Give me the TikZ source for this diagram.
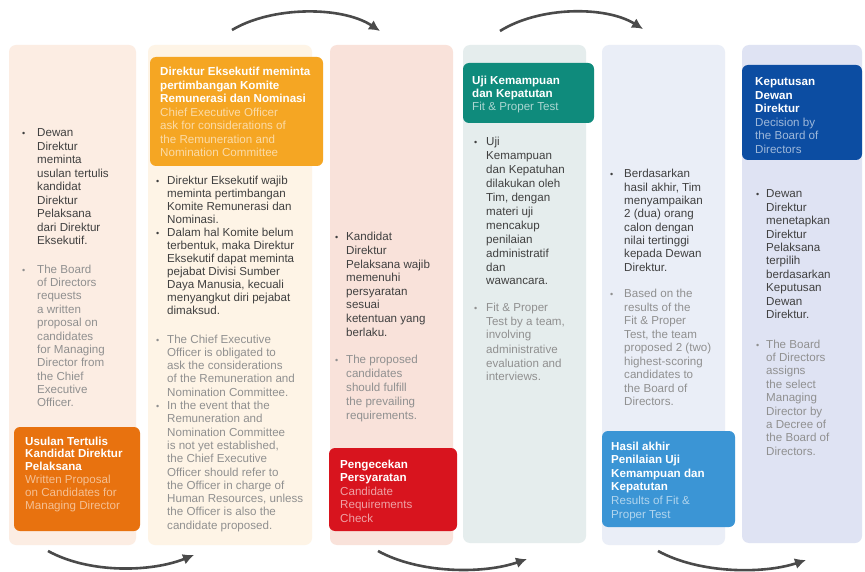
\documentclass[tikz,border=0pt]{standalone}
\usepackage{fontspec}
\setmainfont{Liberation Sans}
\usetikzlibrary{arrows.meta}
\definecolor{bgA}{HTML}{FCEDE3}
\definecolor{bgB}{HTML}{FEF4E6}
\definecolor{bgC}{HTML}{F9E2DA}
\definecolor{bgD}{HTML}{E5EDED}
\definecolor{bgE}{HTML}{EAEEF7}
\definecolor{bgF}{HTML}{DFE3F3}
\definecolor{hA}{HTML}{E8720F}
\definecolor{hB}{HTML}{F5A623}
\definecolor{hC}{HTML}{D8141E}
\definecolor{hD}{HTML}{0F8B7C}
\definecolor{hE}{HTML}{3B95D5}
\definecolor{hF}{HTML}{0C4DA2}
\definecolor{idgray}{HTML}{404040}
\definecolor{engray}{HTML}{909090}
\definecolor{arrowgray}{HTML}{4A4A4A}
\newcommand\blk[2]{\parbox[t]{200pt}{\fontsize{11.6}{#1}\selectfont\raggedright #2}}
\newcommand\hdrtxt[4]{\parbox[t]{200pt}{\fontsize{11.6}{#1}\selectfont\raggedright\bfseries #2\\\mdseries\color{#4}#3}}
\tikzset{
  colbg/.style={rounded corners=7pt},
  hdrbox/.style={rounded corners=6pt},
  idt/.style={anchor=base west, inner sep=0pt, text=idgray},
  ent/.style={anchor=base west, inner sep=0pt, text=engray},
  hdt/.style={anchor=base west, inner sep=0pt, text=white},
  bulid/.style={anchor=base west, inner sep=0pt, text=idgray, font=\fontsize{9}{9}\selectfont},
  bulen/.style={anchor=base west, inner sep=0pt, text=engray, font=\fontsize{9}{9}\selectfont},
  flow/.style={draw=arrowgray, line width=2.6pt, -{Latex[length=11pt,width=11pt]}}
}
\begin{document}
\begin{tikzpicture}[x=1pt,y=-1pt]
\fill[white] (0,0) rectangle (865,572);
\useasboundingbox (0,0) rectangle (865,572);
% column backgrounds
\fill[bgA,colbg] (9,45) rectangle (136,545);
\fill[bgB,colbg] (148,45) rectangle (312,545);
\fill[bgC,colbg] (330,45) rectangle (453,545);
\fill[bgD,colbg] (463,45) rectangle (586,543);
\fill[bgE,colbg] (602,45) rectangle (725,545);
\fill[bgF,colbg] (742,45) rectangle (862,543);
% header boxes
\fill[hA,hdrbox] (14,427) rectangle (140,531);
\fill[hB,hdrbox] (150,57) rectangle (323,166);
\fill[hC,hdrbox] (329,448) rectangle (457,531);
\fill[hD,hdrbox] (463,63) rectangle (594,123);
\fill[hE,hdrbox] (602,431) rectangle (735,527);
\fill[hF,hdrbox] (742,65) rectangle (862,160);
% ---- column 1
\node[bulid] (b1a) at (22,137) {\textbullet};
\node[idt] (t1a) at (37,137) {\blk{13.5}{Dewan\\Direktur\\meminta\\usulan tertulis\\kandidat\\Direktur\\Pelaksana\\dari Direktur\\Eksekutif.}};
\node[bulen] (b1b) at (22,273) {\textbullet};
\node[ent] (t1b) at (37,273) {\blk{13.4}{The Board\\of Directors\\requests\\a written\\proposal on\\candidates\\for Managing\\Director from\\the Chief\\Executive\\Officer.}};
\node[hdt] (h1) at (25,445) {\hdrtxt{12.8}{Usulan Tertulis\\Kandidat Direktur\\Pelaksana}{Written Proposal\\on Candidates for\\Managing Director}{hA!45!white}};
% ---- column 2
\node[hdt] (h2) at (160,76) {\hdrtxt{13.5}{Direktur Eksekutif meminta\\pertimbangan Komite\\Remunerasi dan Nominasi}{Chief Executive Officer\\ask for considerations of\\the Remuneration and\\Nomination Committee}{hB!40!white}};
\node[bulid] (b2a) at (156,185) {\textbullet};
\node[bulid] (b2b) at (156,237) {\textbullet};
\node[idt] (t2a) at (167,185) {\blk{13}{Direktur Eksekutif wajib\\meminta pertimbangan\\Komite Remunerasi dan\\Nominasi.\\Dalam hal Komite belum\\terbentuk, maka Direktur\\Eksekutif dapat meminta\\pejabat Divisi Sumber\\Daya Manusia, kecuali\\menyangkut diri pejabat\\dimaksud.}};
\node[bulen] (b2c) at (156,343) {\textbullet};
\node[bulen] (b2d) at (156,409.5) {\textbullet};
\node[ent] (t2b) at (167,343) {\blk{13.3}{The Chief Executive\\Officer is obligated to\\ask the considerations\\of the Remuneration and\\Nomination Committee.\\In the event that the\\Remuneration and\\Nomination Committee\\is not yet established,\\the Chief Executive\\Officer should refer to\\the Officer in charge of\\Human Resources, unless\\the Officer is also the\\candidate proposed.}};
% ---- column 3
\node[bulid] (b3a) at (335,241) {\textbullet};
\node[idt] (t3a) at (346,241) {\blk{13.6}{Kandidat\\Direktur\\Pelaksana wajib\\memenuhi\\persyaratan\\sesuai\\ketentuan yang\\berlaku.}};
\node[bulen] (b3b) at (335,363) {\textbullet};
\node[ent] (t3b) at (346,363) {\blk{14}{The proposed\\candidates\\should fulfill\\the prevailing\\requirements.}};
\node[hdt] (h3) at (340,468) {\hdrtxt{13.5}{Pengecekan\\Persyaratan}{Candidate\\Requirements\\Check}{hC!40!white}};
% ---- column 4
\node[hdt] (h4) at (472,85) {\hdrtxt{13}{Uji Kemampuan\\dan Kepatutan}{Fit \& Proper Test}{hD!35!white}};
\node[bulid] (b4a) at (474,146) {\textbullet};
\node[idt] (t4a) at (486,146) {\blk{13.9}{Uji\\Kemampuan\\dan Kepatuhan\\dilakukan oleh\\Tim, dengan\\materi uji\\mencakup\\penilaian\\administratif\\dan\\wawancara.}};
\node[bulen] (b4b) at (474,311) {\textbullet};
\node[ent] (t4b) at (486,311) {\blk{14}{Fit \& Proper\\Test by a team,\\involving\\administrative\\evaluation and\\interviews.}};
% ---- column 5
\node[bulid] (b5a) at (610,178) {\textbullet};
\node[idt] (t5a) at (624,178) {\blk{13.3}{Berdasarkan\\hasil akhir, Tim\\menyampaikan\\2 (dua) orang\\calon dengan\\nilai tertinggi\\kepada Dewan\\Direktur.}};
\node[bulen] (b5b) at (610,298) {\textbullet};
\node[ent] (t5b) at (624,298) {\blk{13.5}{Based on the\\results of the\\Fit \& Proper\\Test, the team\\proposed 2 (two)\\highest-scoring\\candidates to\\the Board of\\Directors.}};
\node[hdt] (h5) at (611,450) {\hdrtxt{13.6}{Hasil akhir\\Penilaian Uji\\Kemampuan dan\\Kepatutan}{Results of Fit \&\\Proper Test}{hE!40!white}};
% ---- column 6
\node[hdt] (h6) at (755,86) {\hdrtxt{13.5}{Keputusan\\Dewan\\Direktur}{Decision by\\the Board of\\Directors}{hF!40!white}};
\node[bulid] (b6a) at (756,198) {\textbullet};
\node[idt] (t6a) at (766,198) {\blk{13.4}{Dewan\\Direktur\\menetapkan\\Direktur\\Pelaksana\\terpilih\\berdasarkan\\Keputusan\\Dewan\\Direktur.}};
\node[bulen] (b6b) at (756,348) {\textbullet};
\node[ent] (t6b) at (766,348) {\blk{13.4}{The Board\\of Directors\\assigns\\the select\\Managing\\Director by\\a Decree of\\the Board of\\Directors.}};
% ---- flow arrows
\coordinate (a1s) at (232,30);  \coordinate (a1e) at (380,31);
\coordinate (a2s) at (500,31);  \coordinate (a2e) at (643,29);
\coordinate (a3s) at (48,551);  \coordinate (a3e) at (194,555);
\coordinate (a4s) at (378,551); \coordinate (a4e) at (527,559);
\coordinate (a5s) at (658,551); \coordinate (a5e) at (806,560);
\draw[flow] (a1s) .. controls (272,6) and (342,6) .. (a1e);
\draw[flow] (a2s) .. controls (540,6) and (606,6) .. (a2e);
\draw[flow] (a3s) .. controls (90,574) and (152,572) .. (a3e);
\draw[flow] (a4s) .. controls (420,574) and (484,574) .. (a4e);
\draw[flow] (a5s) .. controls (700,574) and (764,574) .. (a5e);
\end{tikzpicture}
\end{document}
